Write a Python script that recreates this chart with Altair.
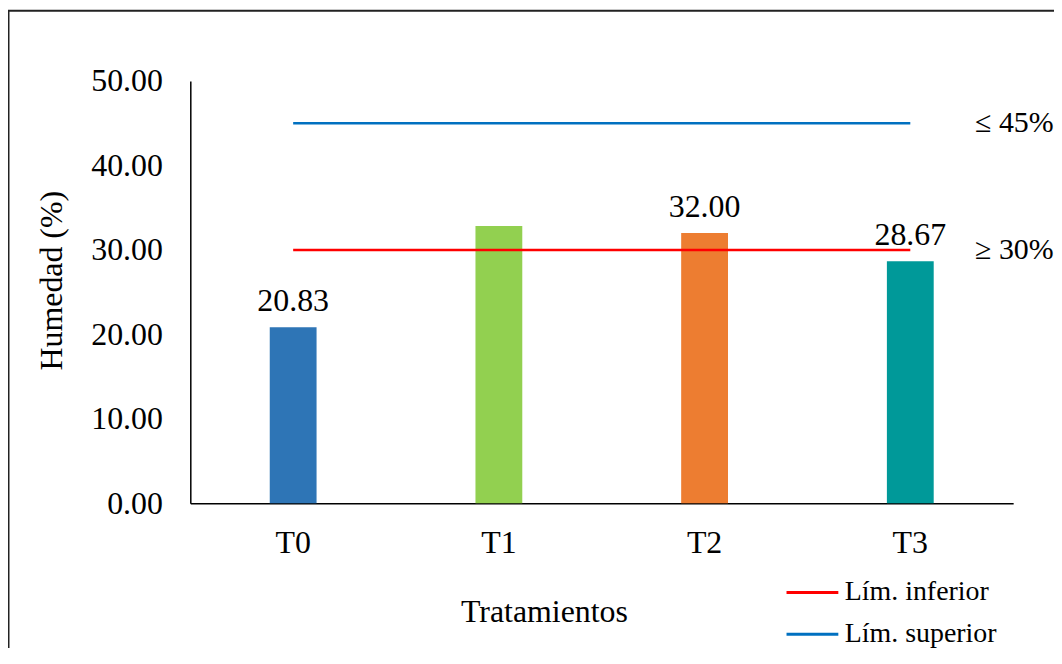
import altair as alt
import pandas as pd

categories = ["T0", "T1", "T2", "T3"]
humedad = [20.83, 32.83, 32.00, 28.67]
bar_colors = ["#2E75B6", "#92D050", "#ED7D31", "#009999"]
value_labels = ["20.83", "", "32.00", "28.67"]

limit_names = ["Lím. inferior", "Lím. superior"]
limit_values = [30, 45]
limit_colors = ["#FF0000", "#0070C0"]
limit_texts = ["≥ 30%", "≤ 45%"]

y_ticks = [0, 10, 20, 30, 40, 50]

FONT = "Liberation Serif"
FS = 32

bars_df = pd.DataFrame({"cat": categories, "val": humedad, "lab": value_labels})
lines_df = pd.DataFrame(
    [{"cat": c, "serie": n, "val": v} for n, v in zip(limit_names, limit_values) for c in categories]
)
limtext_df = pd.DataFrame({"cat": [categories[-1]] * 2, "val": limit_values, "txt": limit_texts})

x_enc = alt.X(
    "cat:N",
    sort=categories,
    scale=alt.Scale(domain=categories),
    axis=alt.Axis(
        title="Tratamientos",
        labelAngle=0,
        labelFont=FONT,
        labelFontSize=FS,
        labelColor="black",
        labelPadding=24,
        ticks=False,
        domainColor="black",
        domainWidth=1.5,
        titleFont=FONT,
        titleFontSize=FS,
        titleFontWeight="normal",
        titleColor="black",
        titleX=355,
        titleY=109,
        titleAlign="center",
        titleBaseline="middle",
    ),
)
y_enc = alt.Y(
    "val:Q",
    scale=alt.Scale(domain=[0, 50], nice=False),
    axis=alt.Axis(
        title="Humedad (%)",
        values=y_ticks,
        format=".2f",
        grid=False,
        ticks=False,
        labelFont=FONT,
        labelFontSize=FS,
        labelColor="black",
        labelPadding=28,
        domainColor="black",
        domainWidth=1.5,
        titleFont=FONT,
        titleFontSize=FS,
        titleFontWeight="normal",
        titleColor="black",
        titleX=-139,
        titleY=200,
        titleAlign="center",
        titleBaseline="middle",
    ),
)

base = alt.Chart(bars_df)

bars = base.mark_bar(size=47).encode(
    x=x_enc,
    y=y_enc,
    color=alt.Color("cat:N", scale=alt.Scale(domain=categories, range=bar_colors), legend=None),
)

bar_text = base.mark_text(
    font=FONT, fontSize=FS, color="black", baseline="alphabetic", dy=-16
).encode(x=alt.X("cat:N", sort=categories), y="val:Q", text="lab:N")

lines = alt.Chart(lines_df).mark_line(strokeWidth=2.5).encode(
    x=alt.X("cat:N", sort=categories),
    y="val:Q",
    color=alt.Color(
        "serie:N",
        scale=alt.Scale(domain=limit_names, range=limit_colors),
        legend=alt.Legend(
            title=None,
            orient="none",
            legendX=597,
            legendY=486,
            symbolType="stroke",
            symbolSize=2704,
            symbolStrokeWidth=3,
            labelFont=FONT,
            labelFontSize=28,
            labelColor="black",
            labelOffset=5,
            rowPadding=-11,
            padding=0,
        ),
    ),
    detail="serie:N",
)

lim_text = alt.Chart(limtext_df).mark_text(
    font=FONT, fontSize=30, color="black", align="left", baseline="middle", dx=65
).encode(x=alt.X("cat:N", sort=categories), y="val:Q", text="txt:N")

border = alt.Chart(pd.DataFrame({"a": [0]})).mark_rect(
    filled=False, stroke="#222222", strokeWidth=2
).encode(
    x=alt.value(-182.5), x2=alt.value(3000), y=alt.value(-70.5), y2=alt.value(3000)
)

chart = (
    alt.layer(border, bars, lines, bar_text, lim_text)
    .resolve_scale(color="independent")
    .properties(
        width=826,
        height=424,
        autosize=alt.AutoSizeParams(type="none"),
        padding={"left": 183, "top": 72, "right": 41, "bottom": 144},
        background="white",
    )
    .configure_view(stroke=None)
)

chart.save("out.html", embed_options={"renderer": "svg", "actions": False})
